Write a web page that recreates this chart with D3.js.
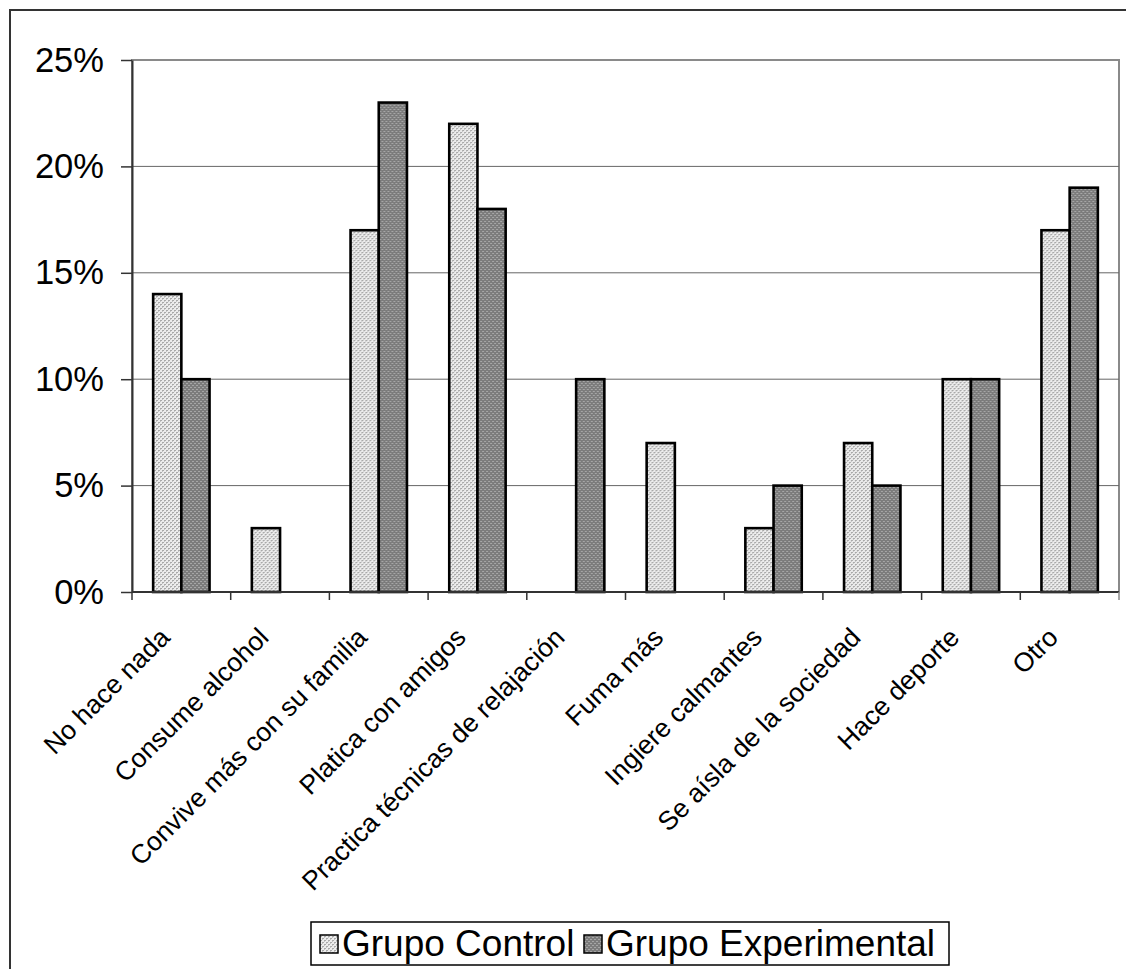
<!DOCTYPE html>
<html>
<head>
<meta charset="utf-8">
<script src="https://cdn.jsdelivr.net/npm/d3@7"></script>
<style>
  html, body { margin: 0; padding: 0; background: #fff; }
  svg { display: block; }
  text { font-family: "Liberation Sans", Arial, sans-serif; fill: #000; }
</style>
</head>
<body>
<script>
// Coping strategies reported by each group (percent of respondents)
const categories = [
  "No hace nada",
  "Consume alcohol",
  "Convive más con su familia",
  "Platica con amigos",
  "Practica técnicas de relajación",
  "Fuma más",
  "Ingiere calmantes",
  "Se aísla de la sociedad",
  "Hace deporte",
  "Otro"
];
const seriesNames = ["Grupo Control", "Grupo Experimental"];
const controlValues = [14, 3, 17, 22, 0, 7, 3, 7, 10, 17];
const experimentalValues = [10, 0, 23, 18, 10, 0, 5, 5, 10, 19];
const yTicks = [0, 5, 10, 15, 20, 25];

const W = 1126, H = 969;
const plot = { left: 132, right: 1119, top: 60, bottom: 592 };

const svg = d3.select("body").append("svg")
  .attr("width", W).attr("height", H);

// Fill textures for the two groups
const defs = svg.append("defs");
const pLight = defs.append("pattern").attr("id", "fillControl")
  .attr("patternUnits", "userSpaceOnUse").attr("width", 4).attr("height", 4);
pLight.append("rect").attr("width", 4).attr("height", 4).attr("fill", "#ececec");
[[0,0],[2,2],[1,0],[3,2]].forEach(([px,py]) =>
  pLight.append("rect").attr("x", px).attr("y", py).attr("width", 1).attr("height", 1).attr("fill", "#a9a9a9"));
[[0,1],[2,3]].forEach(([px,py]) =>
  pLight.append("rect").attr("x", px).attr("y", py).attr("width", 1).attr("height", 1).attr("fill", "#c4c4c4"));

const pDark = defs.append("pattern").attr("id", "fillExperimental")
  .attr("patternUnits", "userSpaceOnUse").attr("width", 4).attr("height", 4);
pDark.append("rect").attr("width", 4).attr("height", 4).attr("fill", "#7c7c7c");
pDark.append("rect").attr("x", 0).attr("y", 1).attr("width", 2).attr("height", 1).attr("fill", "#a6a6a6");
pDark.append("rect").attr("x", 2).attr("y", 3).attr("width", 2).attr("height", 1).attr("fill", "#a6a6a6");

const fills = ["url(#fillControl)", "url(#fillExperimental)"];

// Chart frame
svg.append("rect")
  .attr("x", 10).attr("y", 10).attr("width", W + 20).attr("height", H + 20)
  .attr("fill", "none").attr("stroke", "#333").attr("stroke-width", 2);

// Scales
const x = d3.scaleBand().domain(categories).range([plot.left, plot.right]).padding(0);
const xs = d3.scaleBand().domain(seriesNames).range([0, x.bandwidth()])
  .paddingInner(0).paddingOuter(0.75);
const y = d3.scaleLinear().domain([0, 25]).range([plot.bottom, plot.top]);

// Plot area border and gridlines
svg.append("rect")
  .attr("x", plot.left).attr("y", plot.top)
  .attr("width", plot.right - plot.left).attr("height", plot.bottom - plot.top)
  .attr("fill", "none").attr("stroke", "#8a8a8a").attr("stroke-width", 2);

svg.append("g").selectAll("line")
  .data(yTicks.filter(t => t > 0 && t < 25))
  .join("line")
  .attr("x1", plot.left).attr("x2", plot.right)
  .attr("y1", d => y(d)).attr("y2", d => y(d))
  .attr("stroke", "#666").attr("stroke-width", 1);

// Bars
const rows = categories.map((c, i) => ({ cat: c, vals: [controlValues[i], experimentalValues[i]] }));
svg.append("g").selectAll("g")
  .data(rows)
  .join("g")
  .attr("transform", d => `translate(${x(d.cat)},0)`)
  .selectAll("rect")
  .data(d => d.vals.map((v, k) => ({ v, k })).filter(e => e.v > 0))
  .join("rect")
  .attr("x", d => xs(seriesNames[d.k]))
  .attr("y", d => y(d.v))
  .attr("width", xs.bandwidth())
  .attr("height", d => y(0) - y(d.v))
  .attr("fill", d => fills[d.k])
  .attr("stroke", "#000").attr("stroke-width", 2.6);

// Y axis
const yAxis = svg.append("g")
  .attr("transform", `translate(${plot.left},0)`)
  .call(d3.axisLeft(y).tickValues(yTicks).tickFormat(d => d + "%")
    .tickSize(11).tickPadding(17).tickSizeOuter(0));
yAxis.select(".domain").attr("stroke", "#333").attr("stroke-width", 2);
yAxis.selectAll(".tick line").attr("stroke", "#333").attr("stroke-width", 1.5);
yAxis.selectAll("text").style("font-size", "34.5px").attr("fill", "#000");

// X axis line with ticks at category boundaries
const bounds = categories.map(c => x(c)).concat([plot.right]);
svg.append("line")
  .attr("x1", plot.left).attr("x2", plot.right)
  .attr("y1", y(0)).attr("y2", y(0))
  .attr("stroke", "#333").attr("stroke-width", 2);
svg.append("g").selectAll("line")
  .data(bounds)
  .join("line")
  .attr("x1", d => d).attr("x2", d => d)
  .attr("y1", y(0)).attr("y2", y(0) + 8)
  .attr("stroke", (d, i) => i === bounds.length - 1 ? "#8a8a8a" : "#333")
  .attr("stroke-width", 1.5);

// Rotated category labels
svg.append("g").selectAll("text")
  .data(categories)
  .join("text")
  .attr("transform", d => `translate(${x(d) + x.bandwidth() / 2 - 10},639) rotate(-45)`)
  .attr("text-anchor", "end")
  .style("font-size", "26.5px")
  .text(d => d);

// Legend
const legend = svg.append("g");
legend.append("rect")
  .attr("x", 311).attr("y", 922).attr("width", 638).attr("height", 43)
  .attr("fill", "#fff").attr("stroke", "#000").attr("stroke-width", 1.5);
const legendItems = [
  { name: seriesNames[0], fill: fills[0], sx: 320 },
  { name: seriesNames[1], fill: fills[1], sx: 584 }
];
legendItems.forEach(it => {
  legend.append("rect")
    .attr("x", it.sx).attr("y", 935).attr("width", 18).attr("height", 18)
    .attr("fill", it.fill).attr("stroke", "#000").attr("stroke-width", 1.5);
  legend.append("text")
    .attr("x", it.sx + 22).attr("y", 956)
    .style("font-size", "37px")
    .text(it.name);
});
</script>
</body>
</html>
